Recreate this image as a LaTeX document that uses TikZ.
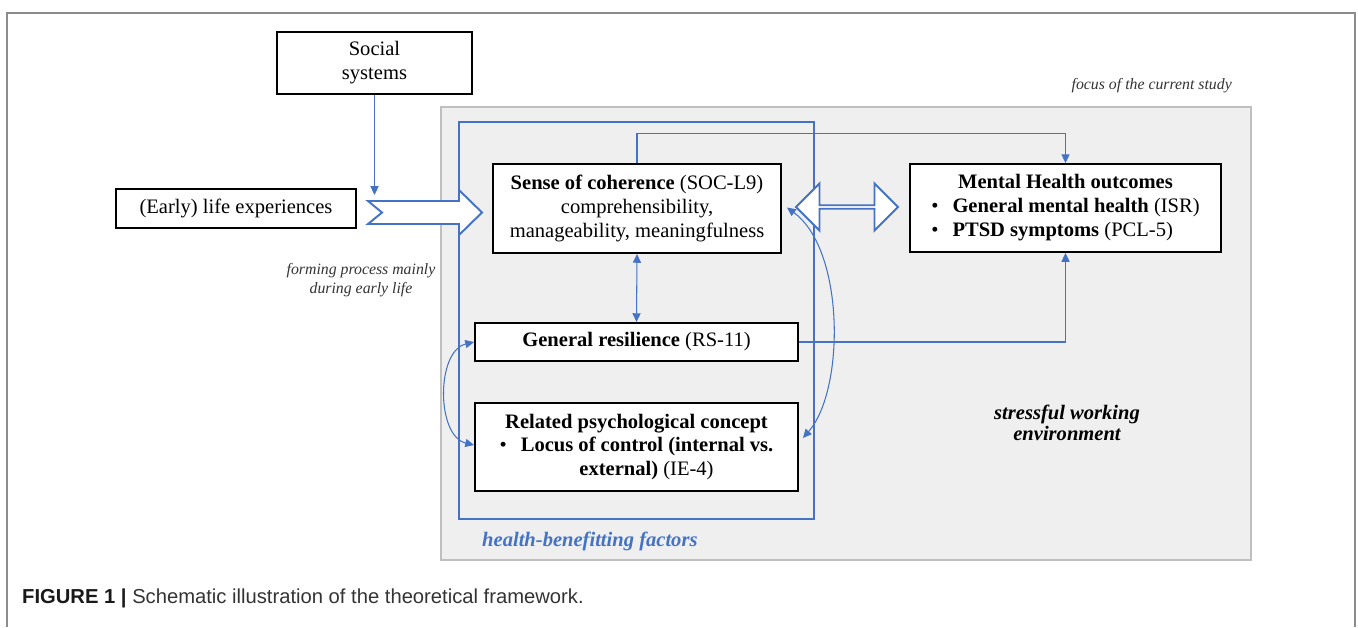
\documentclass[tikz,border=0pt]{standalone}
\usepackage{fontspec}
\setmainfont{Liberation Serif}
\setsansfont{Liberation Sans}
\usetikzlibrary{calc, arrows.meta, positioning, shapes.arrows}

\definecolor{hbblue}{HTML}{4472C4}
\definecolor{focusgray}{HTML}{EFEFEF}
\definecolor{focusline}{HTML}{BFBFBF}
\definecolor{framegray}{HTML}{8C8C8C}

\begin{document}
\begin{tikzpicture}[
    x=0.02cm, y=-0.02cm,
    font=\fontsize{11.7}{13.6}\selectfont,
    box/.style={
        rectangle, draw=black, line width=1.1pt, fill=white,
        align=center, inner sep=0pt
    },
    region/.style={
        rectangle, draw=focusline, line width=1.1pt, fill=focusgray, inner sep=0pt
    },
    hbframe/.style={
        rectangle, draw=hbblue, line width=1.1pt, inner sep=0pt
    },
    arrow/.style={
        -{Triangle[length=5pt, width=4.6pt]}, line width=0.6pt, draw=hbblue
    },
    biarrow/.style={
        {Triangle[length=5pt, width=4.6pt]}-{Triangle[length=5pt, width=4.6pt]}, line width=0.6pt, draw=hbblue
    },
    blockarrow/.style={
        draw=hbblue, line width=1.1pt, fill=white, line join=miter
    },
    dblarrow/.style={
        double arrow, draw=hbblue, line width=1.1pt, fill=white, inner sep=0pt,
        minimum height=2.04cm, minimum width=0.94cm,
        double arrow head extend=0.24cm, double arrow tip angle=90
    },
    note/.style={
        font=\fontsize{9}{10.8}\selectfont\itshape, text=black!80, align=center
    }
]
    \useasboundingbox (0,0) rectangle (1358,627);

    % =========================================================================
    % FRAME, FOCUS REGION, HEALTH-BENEFITTING FACTORS
    % =========================================================================
    \draw [framegray, line width=0.9pt] (7,627) -- (7,13) -- (1355,13) -- (1355,627);

    \node [region, minimum width=16.2cm, minimum height=9.06cm] (focus) at (846,333.5) {};
    \node [hbframe, minimum width=7.1cm, minimum height=7.94cm] (hbf) at (636.5,320.5) {};

    \node [note, anchor=east] (focus_title) at (1238,86) {focus of the current study};
    \node [anchor=west, text=hbblue, font=\fontsize{11.7}{13.6}\selectfont\bfseries\itshape] (hbf_title) at (476,541) {health-benefitting factors};
    \node [align=center, font=\fontsize{11.7}{12}\selectfont\bfseries\itshape] (stress) at (1067,422.5) {stressful working\\environment};

    % =========================================================================
    % BOXES
    % =========================================================================
    \node [box, minimum width=3.9cm, minimum height=1.24cm] (social) at (374.5,63) {Social\\systems};
    \node [box, minimum width=4.8cm, minimum height=0.78cm] (early) at (236,208.5) {(Early) life experiences};
    \node [note] (forming) at (361,280.5) {forming process mainly\\during early life};

    \node [box, minimum width=5.76cm, minimum height=1.78cm] (sense) at (637,208.5)
        {\textbf{Sense of coherence} (SOC-L9)\\comprehensibility,\\manageability, meaningfulness};
    \node [box, minimum width=6.46cm, minimum height=0.76cm] (resil) at (636.5,342)
        {\textbf{General resilience} (RS-11)};
    \node [box, minimum width=6.46cm, minimum height=1.76cm] (locus) at (636.5,447)
        {\textbf{Related psychological concept}\\
         \textbullet\hspace{0.28cm}\textbf{Locus of control (internal vs.}\\
         \hspace*{0.4cm}\textbf{external)} (IE-4)};

    \node [box, minimum width=6.22cm, minimum height=1.76cm] (mh) at (1065.5,208)
        {\begin{tabular}{@{}l@{\hspace{0.28cm}}l@{}}
         \multicolumn{2}{c}{\textbf{Mental Health outcomes}}\\
         \textbullet & \textbf{General mental health} (ISR)\\
         \textbullet & \textbf{PTSD symptoms} (PCL-5)
         \end{tabular}};

    % =========================================================================
    % FLOWS
    % =========================================================================
    \coordinate (chevtop) at (374.5,195);
    \draw [arrow] (social.south) -- (chevtop);

    % notched block arrow into the sense of coherence
    \draw [blockarrow] (368,201) -- (459,201) -- (459,190) -- (482,212.5) -- (459,235)
        -- (459,224) -- (368,224) -- (382,212.5) -- cycle;

    \draw [arrow] (sense.north) -- ++(0,-30) -| (mh.north);
    \draw [biarrow] (sense.south) -- (resil.north);
    \draw [arrow] (resil.east) -| (mh.south);

    \draw [biarrow] (resil.west) .. controls +(-38,9) and +(-38,-9) .. ($(locus.west)+(0,-2)$);
    \draw [biarrow] ($(sense.east)+(5,-1)$) .. controls (845,250) and (845,390) .. ($(locus.east)+(4,-9)$);

    \node [dblarrow] (link) at (847,207) {};

    % =========================================================================
    % CAPTION
    % =========================================================================
    \node [anchor=west, text=black!80, font=\sffamily\fontsize{11.5}{13}\selectfont] (caption) at (16,598)
        {\textcolor{black!90}{\textbf{FIGURE 1 |}} Schematic illustration of the theoretical framework.};

\end{tikzpicture}
\end{document}
